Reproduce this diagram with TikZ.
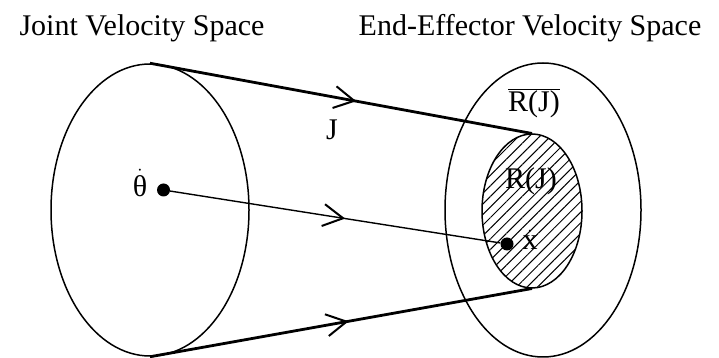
\documentclass[tikz,border=0pt]{standalone}
\usepackage{fontspec}
\setmainfont{Liberation Serif}
\usepackage{tikz}
\usetikzlibrary{arrows.meta,positioning,calc,shapes.geometric,patterns.meta,decorations.markings}

\begin{document}
\begin{tikzpicture}[
  x=1pt, y=1pt,
  font=\fontsize{30}{36}\selectfont,
  space/.style={draw, ellipse, line width=1.5pt, inner sep=0pt},
  dotpt/.style={circle, fill, inner sep=0pt, minimum size=13pt},
  lbl/.style={inner sep=1pt},
  barb/.style={postaction={decorate, decoration={markings,
      mark=at position #1 with {\arrow{Straight Barb[length=20pt, width=22pt, line width=2pt]}}}}},
  map/.style={line width=2.8pt},
  thin map/.style={line width=1.4pt}
]
  \useasboundingbox (0,0) rectangle (719,358);
  % the two spaces
  \node[space, minimum width=198pt, minimum height=292pt] (joint) at (150,148) {};
  \node[space, minimum width=196pt, minimum height=294pt] (endeff) at (543,148) {};
  \node[space, minimum width=100pt, minimum height=154pt,
        pattern={Lines[angle=45, distance=7.5pt, line width=1pt]}] (range) at (532,147) {};
  \node[anchor=base] (jtitle) at (142,322) {Joint Velocity Space};
  \node[anchor=base] (etitle) at (530,322) {End-Effector Velocity Space};
  % points and labels
  \node[dotpt] (theta) at (163.5,168) {};
  \node[dotpt] (xdot) at (507,114) {};
  \node[lbl] (thetalbl) at (140,175) {$\dot{\mbox{θ}}$};
  \node[lbl] (xlbl) at (530,118) {$\dot{\mbox{x}}$};
  \node[lbl] (jlbl) at (332,228) {J};
  \node[lbl] (rbar) at (534,255) {$\overline{\mbox{R(J)}}$};
  \node[lbl] (rj) at (531,177) {R(J)};
  % the mapping
  \draw[map, barb=0.54] (joint.north) -- (range.north);
  \draw[map, barb=0.52] (joint.south) -- (range.south);
  \draw[thin map, barb=0.53] (theta) -- (xdot);
\end{tikzpicture}
\end{document}
